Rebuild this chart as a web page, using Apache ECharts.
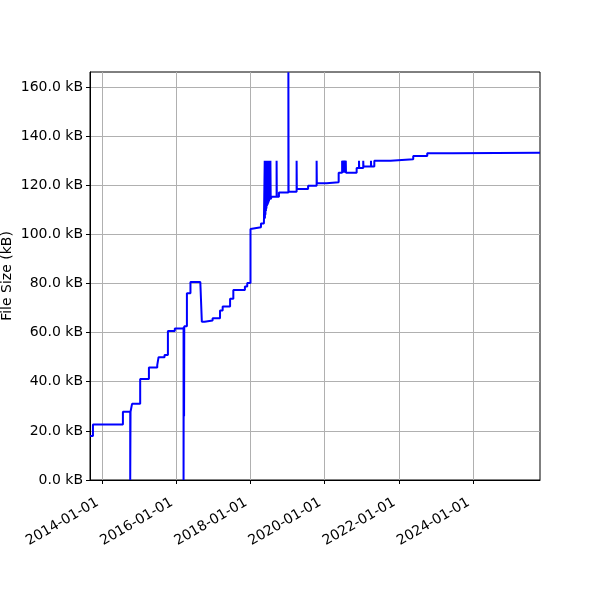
<!DOCTYPE html>
<html>
<head>
<meta charset="utf-8">
<script src="https://cdn.jsdelivr.net/npm/echarts@6/dist/echarts.min.js"></script>
<style>
  html, body { margin: 0; padding: 0; background: #fff; }
  #chart { width: 600px; height: 600px; }
</style>
</head>
<body>
<div id="chart"></div>
<script>
// 文件大小随时间变化（阶梯线）
const dates = [
  '2013-09-06', '2013-10-04', '2014-07-26', '2014-10-06', '2014-10-09', '2014-10-24',
  '2015-01-12', '2015-04-08', '2015-06-29', '2015-07-12', '2015-09-09', '2015-10-12',
  '2015-12-19', '2016-03-14', '2016-03-16', '2016-03-19', '2016-03-21', '2016-04-16',
  '2016-05-21', '2016-08-26', '2016-09-10', '2016-10-07', '2016-12-25', '2017-03-08',
  '2017-04-03', '2017-06-15', '2017-07-17', '2017-11-08', '2017-12-01', '2018-01-02',
  '2018-01-18', '2018-04-15', '2018-05-14',
  '2018-05-22', '2018-05-24', '2018-05-27', '2018-05-29', '2018-06-01', '2018-06-03',
  '2018-06-06', '2018-06-08', '2018-06-11', '2018-06-13', '2018-06-16', '2018-06-18',
  '2018-06-21', '2018-06-23', '2018-06-26', '2018-06-28', '2018-07-01', '2018-07-03',
  '2018-07-06', '2018-07-08', '2018-07-11', '2018-07-13', '2018-07-17', '2018-07-20',
  '2018-07-29', '2018-09-16', '2018-09-18', '2018-10-09', '2019-01-10', '2019-01-12',
  '2019-04-01', '2019-04-03', '2019-07-23', '2019-10-15', '2019-10-17', '2020-01-21',
  '2020-05-19', '2020-06-22', '2020-06-24', '2020-07-01', '2020-07-03', '2020-07-10',
  '2020-07-12', '2020-07-20', '2020-07-22', '2020-07-28', '2020-07-30', '2020-11-12',
  '2020-12-05', '2020-12-07', '2021-01-16', '2021-01-18', '2021-04-02', '2021-04-04',
  '2021-05-05', '2021-10-12', '2022-05-23', '2022-10-08', '2023-06-15', '2025-10-22'
];
const sizesKb = [
  17.9, 22.6, 27.8, 0, 27.8, 31.0,
  41.1, 45.8, 46.8, 50.0, 50.9, 60.7,
  61.7, 0, 62.3, 26.0, 62.6, 76.0,
  80.6, 81.0, 64.4, 64.9, 65.8, 69.0,
  70.6, 73.8, 77.4, 78.8, 80.2, 102.2,
  102.9, 104.4, 105.2,
  130, 106.5, 130, 108.0, 130, 109.5,
  130, 110.5, 130, 111.5, 130, 112.0,
  130, 112.5, 130, 113.0, 130, 113.5,
  130, 114.0, 130, 114.2, 130, 114.4,
  115.3, 130, 115.3, 117.0, 166, 117.3,
  130, 118.5, 119.8, 130, 120.8, 121.2,
  125.1, 130, 125.1, 130, 125.1, 130,
  125.1, 130, 125.1, 130, 125.1, 127.0,
  130, 127.0, 130, 127.6, 130, 127.6,
  130.0, 130.6, 131.9, 133.0, 133.2, 133.2
];

const xStart = '2013-09-05';
const xEnd = '2025-10-22';
const xTicks = ['2014-01-01', '2016-01-01', '2018-01-01', '2020-01-01', '2022-01-01', '2024-01-01'];
const yTicks = [0, 20, 40, 60, 80, 100, 120, 140, 160];
const yMax = 166.1;

function ts(s) {
  const [y, m, d] = s.split('-').map(Number);
  return new Date(y, m - 1, d).getTime();
}

function fmtDate(v) {
  const d = new Date(v);
  const p = n => String(n).padStart(2, '0');
  return d.getFullYear() + '-' + p(d.getMonth() + 1) + '-' + p(d.getDate());
}

const chart = echarts.init(document.getElementById('chart'), null, { renderer: 'canvas' });
const font = 'DejaVu Sans';

chart.setOption({
  animation: false,
  backgroundColor: '#fff',
  grid: {
    left: 90, right: 60, top: 72, bottom: 120,
    containLabel: false,
    outerBoundsMode: 'none',
    show: true, borderColor: '#000', borderWidth: 1, backgroundColor: 'transparent',
  },
  xAxis: {
    type: 'value',
    min: ts(xStart),
    max: ts(xEnd),
    axisLine: { show: true, lineStyle: { color: '#000', width: 1 } },
    axisTick: {
      show: true, length: 4, lineStyle: { color: '#000' },
      customValues: xTicks.map(ts),
    },
    axisLabel: {
      customValues: xTicks.map(ts),
      formatter: v => fmtDate(v),
      rotate: 30,
      color: '#000',
      fontFamily: font,
      fontSize: 14,
      margin: 19,
      padding: [0, 5, 0, 0],
      hideOverlap: false,
    },
    splitLine: { show: true, lineStyle: { color: '#b0b0b0', width: 1 } },
  },
  yAxis: {
    type: 'value',
    min: 0,
    max: yMax,
    name: 'File Size (kB)',
    nameLocation: 'middle',
    nameGap: 76,
    nameMoveOverlap: false,
    nameTextStyle: { color: '#000', fontFamily: font, fontSize: 14 },
    axisLine: { show: true, lineStyle: { color: '#000', width: 1 } },
    axisTick: {
      show: true, length: 4, lineStyle: { color: '#000' },
      customValues: yTicks,
    },
    axisLabel: {
      customValues: yTicks,
      formatter: v => v.toFixed(1) + ' kB',
      color: '#000',
      fontFamily: font,
      fontSize: 14,
      margin: 7,
    },
    splitLine: { show: true, lineStyle: { color: '#b0b0b0', width: 1 } },
  },
  series: [
    {
      name: 'File Size',
      type: 'line',
      step: 'end',
      data: dates.map((d, i) => [ts(d), sizesKb[i]]),
      symbol: 'none',
      clip: true,
      lineStyle: { color: '#0000ff', width: 2 },
      itemStyle: { color: '#0000ff' },
    }
  ],
});
</script>
</body>
</html>
